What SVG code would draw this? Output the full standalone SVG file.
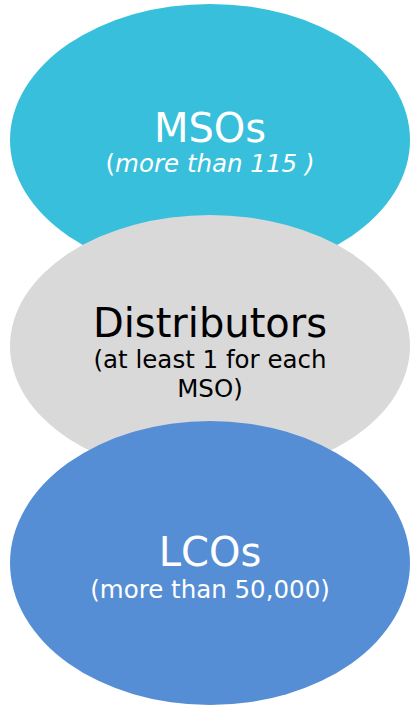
<svg xmlns="http://www.w3.org/2000/svg" width="410" height="705" viewBox="0 0 410 705">
<style>
text{font-family:"DejaVu Sans","Verdana",sans-serif;text-anchor:middle}
.t{font-size:40px}
.s{font-size:24.5px}
.w{fill:#ffffff}
.k{fill:#000000}
</style>
<rect width="410" height="705" fill="#ffffff"/>
<g id="msos">
<ellipse cx="210" cy="140" rx="200" ry="136" fill="#37BFDB"/>
<text class="t w" x="210" y="142">MSOs</text>
<text class="s w" x="210" y="172">(<tspan font-style="italic">more than 115 )</tspan></text>
</g>
<g id="distributors">
<ellipse cx="210" cy="346" rx="200" ry="131" fill="#D9D9D9"/>
<text class="t k" x="210" y="337">Distributors</text>
<text class="s k" x="210" y="368">(at least 1 for each</text>
<text class="s k" x="210" y="397">MSO)</text>
</g>
<g id="lcos">
<ellipse cx="210" cy="563" rx="200" ry="142" fill="#558ED5"/>
<text class="t w" x="210" y="566">LCOs</text>
<text class="s w" x="210" y="598">(more than 50,000)</text>
</g>
<g id="connectors"></g>
</svg>
